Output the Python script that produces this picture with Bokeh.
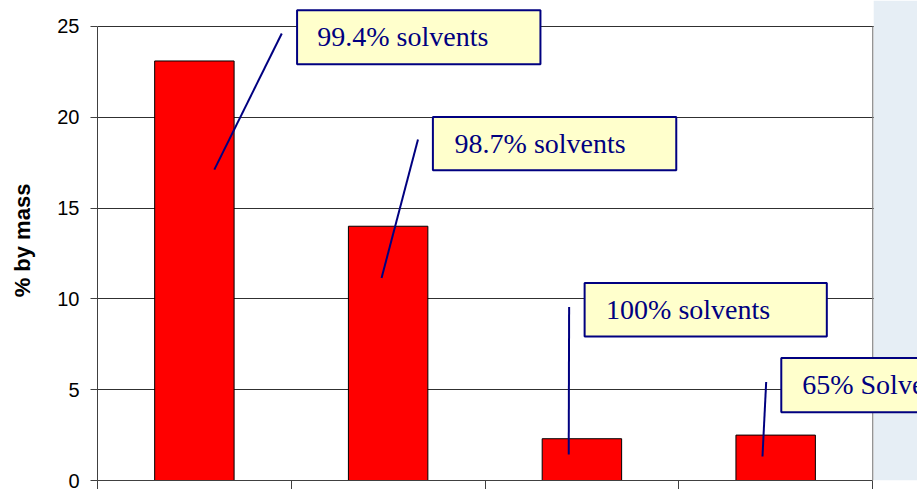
from bokeh.plotting import figure
from bokeh.models import Range1d, FixedTicker, BoxAnnotation, Label, ColumnDataSource
from bokeh.embed import file_html
from bokeh.resources import INLINE

# ---- data ---------------------------------------------------------------
bar_pos = [1, 2, 3, 4]
mass_pct = [23.1, 14.0, 2.3, 2.5]
y_ticks = [0, 5, 10, 15, 20, 25]
y_title = "% by mass"

callout_text = ["99.4% solvents", "98.7% solvents", "100% solvents", "65% Solvents"]

# callout boxes (data units): left, right, top, bottom
box_left = [1.530, 2.231, 3.014, 4.029]
box_right = [2.786, 3.487, 4.264, 5.400]
box_top = [25.90, 20.02, 10.87, 6.74]
box_bottom = [22.92, 17.08, 7.93, 3.76]
# text anchor inside each box
text_x = [1.634, 2.343, 3.125, 4.137]
text_y = [24.45, 18.58, 9.43, 5.28]

# leader lines from box to bar
lead_x0 = [1.451, 2.154, 2.934, 3.951]
lead_y0 = [24.61, 18.77, 9.55, 5.42]
lead_x1 = [1.103, 1.966, 2.932, 3.932]
lead_y1 = [17.12, 11.15, 1.43, 1.32]

NAVY = "#000080"
X_MIN, X_MAX = 0.5, len(bar_pos) + 0.5
Y_MIN, Y_MAX = 0, 25

# the frame reaches past the value axes so that the callouts can overhang
p = figure(width=917, height=489, output_backend="svg", toolbar_location=None,
           x_range=Range1d(X_MIN, 4.732), y_range=Range1d(Y_MIN, 26.43),
           min_border_left=97, min_border_right=0,
           min_border_top=0, min_border_bottom=9)

p.border_fill_color = "white"
p.background_fill_color = "white"
p.outline_line_color = None

# bars
src = ColumnDataSource(dict(x=bar_pos, top=mass_pct))
p.vbar(x="x", top="top", bottom=0, width=0.41, source=src,
       fill_color="#ff0000", line_color="black", line_width=1)

# y axis
p.yaxis.bounds = (Y_MIN, Y_MAX)
p.yaxis.ticker = FixedTicker(ticks=y_ticks)
p.yaxis.minor_tick_line_color = None
p.yaxis.major_tick_in = 0
p.yaxis.major_tick_out = 7
p.yaxis.major_label_standoff = 11
p.yaxis.major_label_text_font = "Liberation Sans"
p.yaxis.major_label_text_font_size = "20px"
p.yaxis.major_label_text_color = "black"
p.yaxis.axis_line_color = "#404040"
p.yaxis.major_tick_line_color = "#404040"
p.yaxis.axis_label = y_title
p.yaxis.axis_label_text_font = "Liberation Sans"
p.yaxis.axis_label_text_font_size = "22px"
p.yaxis.axis_label_text_font_style = "bold"
p.yaxis.axis_label_text_color = "black"
p.yaxis.axis_label_standoff = 19

# x axis: only the category separators, no labels
p.xaxis.bounds = (X_MIN, X_MAX)
p.xaxis.ticker = FixedTicker(ticks=[], minor_ticks=[0.5, 1.5, 2.5, 3.5, 4.5])
p.xaxis.major_label_standoff = 0
p.xaxis.minor_tick_in = 0
p.xaxis.minor_tick_out = 9
p.xaxis.minor_tick_line_color = "#404040"
p.xaxis.axis_line_color = "#404040"

p.xgrid.visible = False
p.ygrid.ticker = FixedTicker(ticks=y_ticks)
p.ygrid.grid_line_color = "#303030"
p.ygrid.grid_line_width = 1

# slide background beyond the chart panel
p.add_layout(BoxAnnotation(left=X_MAX + 0.006, fill_color="#e6eef5", fill_alpha=1.0,
                           line_color=None))

# right edge of the plot area
p.add_layout(BoxAnnotation(left=X_MAX - 0.002, right=X_MAX + 0.004,
                           bottom=Y_MIN, top=Y_MAX,
                           fill_color="#808080", fill_alpha=1.0, line_color=None))

# leader lines
p.segment(x0=lead_x0, y0=lead_y0, x1=lead_x1, y1=lead_y1,
          line_color=NAVY, line_width=2)

# callout boxes with text
for i, txt in enumerate(callout_text):
    p.add_layout(BoxAnnotation(left=box_left[i], right=box_right[i],
                               top=box_top[i], bottom=box_bottom[i],
                               fill_color="#ffffcc", fill_alpha=1.0,
                               line_color=NAVY, line_alpha=1.0, line_width=2,
                               line_dash="solid"))
    p.add_layout(Label(x=text_x[i], y=text_y[i], text=txt,
                       text_font="Liberation Serif", text_font_size="28px",
                       text_color=NAVY, text_align="left",
                       text_baseline="middle"))

open("out.html", "w").write(file_html(p, INLINE))
